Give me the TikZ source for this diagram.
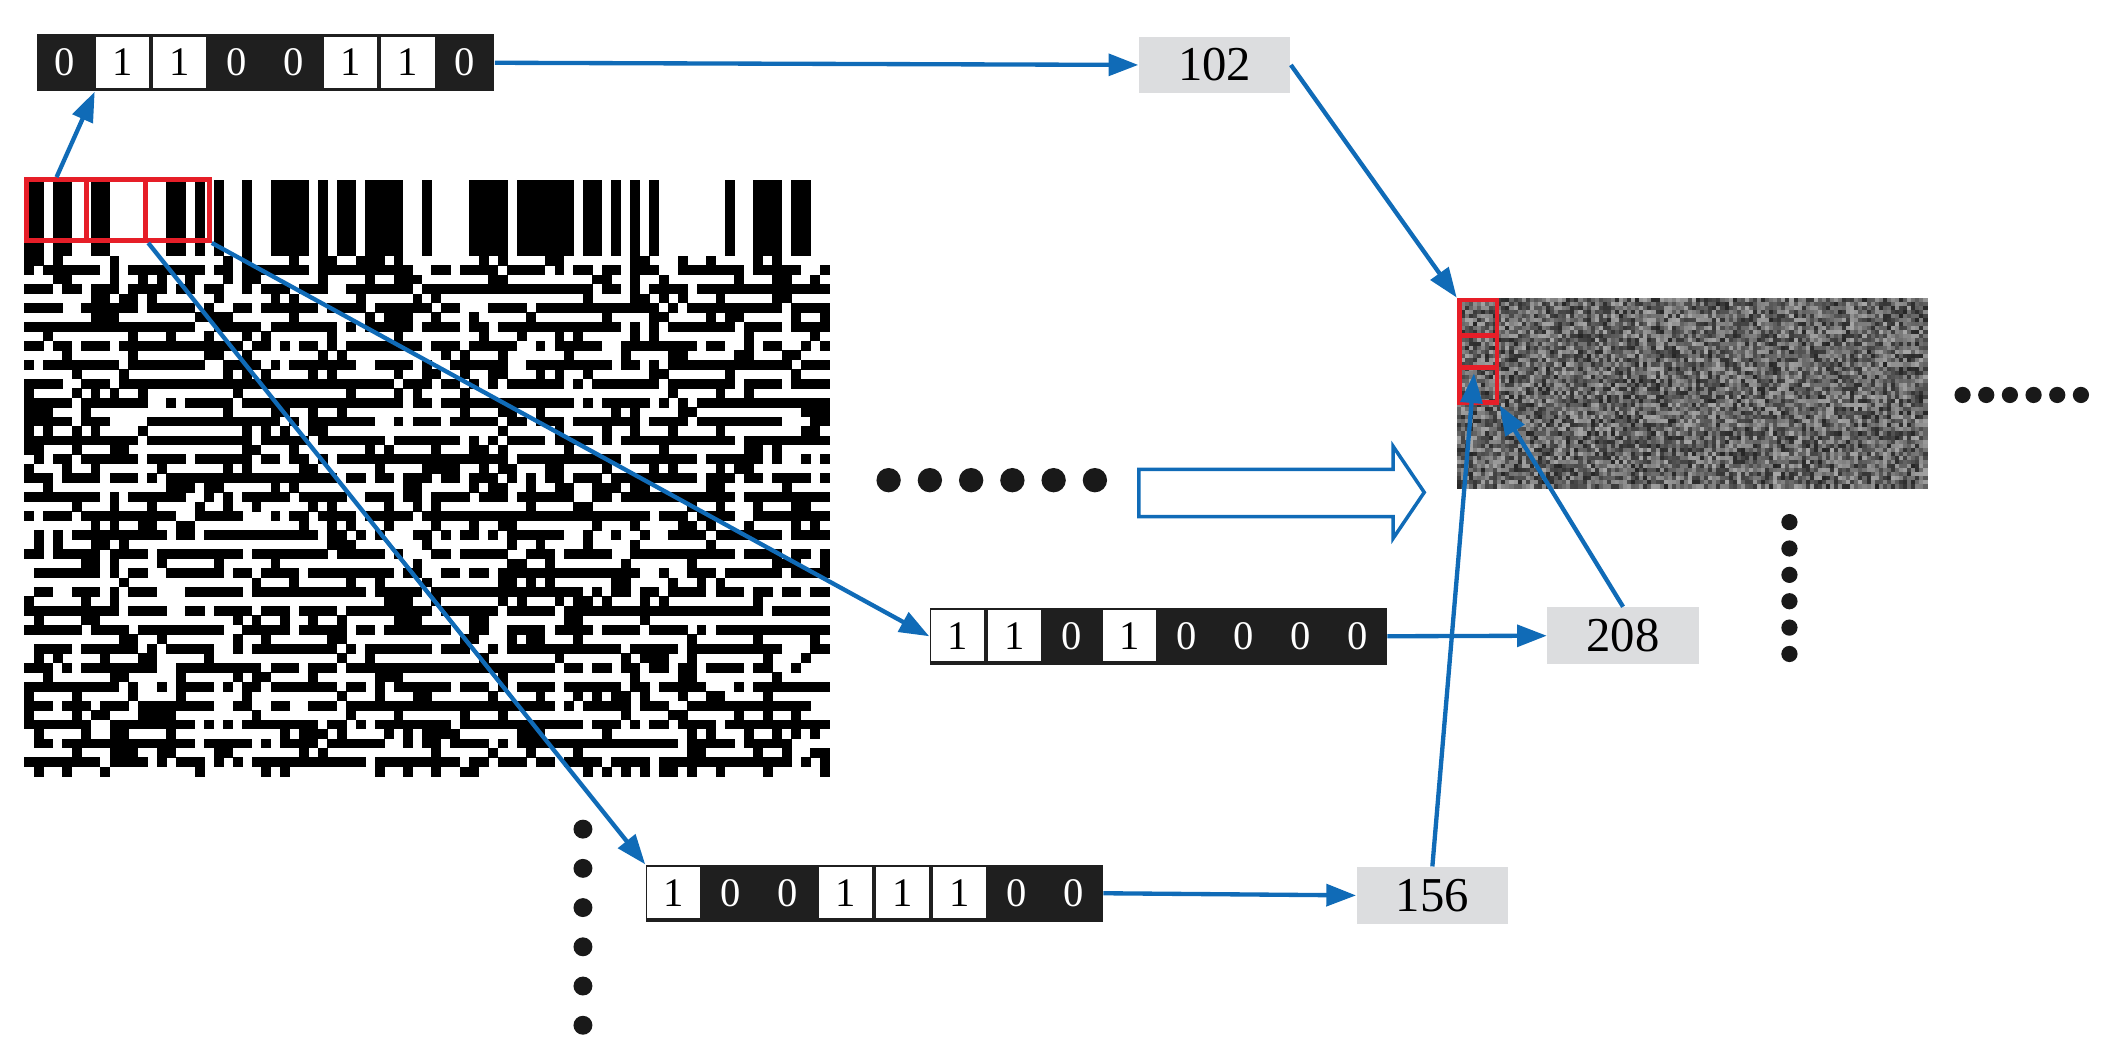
\documentclass[tikz,border=0pt]{standalone}
\usepackage{fontspec}
\setmainfont{Liberation Serif}
\usetikzlibrary{arrows.meta,calc}
\definecolor{arr}{RGB}{16,107,183}
\definecolor{lg}{RGB}{220,221,223}
\definecolor{rd}{RGB}{230,30,40}
\newcommand\mybyte[4]{%
 \node[fill=black!88,minimum width=169pt,minimum height=21pt,inner sep=0,anchor=north west] (#1) at (#2,#3) {};
 \foreach \b [count=\i from 0] in {#4}{
   \ifnum\b=1 \def\tc{black}\fill[white] (#2+\i*42.25+1.5,#3+2) rectangle ++(39.25,38);\else\def\tc{white}\fi
   \node[font=\fontsize{15}{15}\selectfont,text=\tc,inner sep=0] at (#2+\i*42.25+21.1,#3+21) {\b};
 }}
\begin{document}
\begin{tikzpicture}[x=0.5pt,y=-0.5pt,
  conn/.style={arr,line width=1.6pt,-{Triangle[length=11pt,width=8pt]}},
  val/.style={fill=lg,minimum width=56pt,minimum height=21pt,inner sep=0,font=\fontsize{18}{18}\selectfont},
  rbox/.style={draw=rd,line width=1.8pt,inner sep=0,anchor=north west},
  dot/.style={fill=black!90}]
\useasboundingbox (0,0) rectangle (1560,783);
\pgfmathsetseed{7}
% barcode image
\foreach \i in {0,...,84}{
  \pgfmathrandominteger{\col}{0}{1}
  \foreach \j in {0,...,62}{
    \ifnum\j<8
      \ifnum\col=1 \fill[black] (18+\i*7,133+\j*7) rectangle ++(7.3,7.3);\fi
    \else
      \pgfmathsetmacro\p{ifthenelse(isodd(\j),0.78,0.22)}
      \pgfmathparse{rnd<\p?1:0}
      \ifnum\pgfmathresult=1 \fill[black] (18+\i*7,133+\j*7) rectangle ++(7.3,7.3);\fi
    \fi
  }
}
% noise image
\foreach \i in {0,...,115}{
  \foreach \j in {0,...,46}{
    \pgfmathsetmacro\g{int(35+random(0,50))}
    \fill[black!\g] (1077+\i*3,220+\j*3) rectangle ++(3.2,3.2);
  }
}
% red boxes
\node[rbox,minimum width=22pt,minimum height=22.5pt] (r1) at (18,131) {};
\node[rbox,minimum width=22pt,minimum height=22.5pt] (r2) at (62,131) {};
\node[rbox,minimum width=23.5pt,minimum height=22.5pt] (r3) at (106,131) {};
\node[rbox,minimum width=14pt,minimum height=13pt] (n1) at (1077,220) {};
\node[rbox,minimum width=14pt,minimum height=12pt] (n2) at (1077,246) {};
\node[rbox,minimum width=14pt,minimum height=13pt] (n3) at (1077,270) {};
% bytes
\mybyte{b1}{27}{25}{0,1,1,0,0,1,1,0}
\mybyte{b2}{687}{449}{1,1,0,1,0,0,0,0}
\mybyte{b3}{477}{639}{1,0,0,1,1,1,0,0}
% values
\node[val] (v102) at (898,48) {102};
\node[val] (v208) at (1200,470) {208};
\node[val] (v156) at (1059,662) {156};
% hollow arrow
\draw[arr,line width=1.3pt,line join=miter] (842,347) -- (1030,347) -- (1030,330) -- (1053,364) -- (1030,398) -- (1030,382) -- (842,382) -- cycle;
% dots
\foreach \k [count=\n] in {0,...,5}{
  \node[circle,dot,inner sep=0,minimum size=9pt] (m\n) at (657+\k*30.5,355) {};
  \node[circle,dot,inner sep=0,minimum size=6pt] (h\n) at (1451+\k*17.5,292) {};
  \node[circle,dot,inner sep=0,minimum size=6pt] (v\n) at (1323,386+\k*19.5) {};
  \node[circle,dot,inner sep=0,minimum size=7pt] (w\n) at (431,613+\k*29) {};
}
% connectors
\draw[conn] (r1.north) -- ($(b1.south west)+(43,0)$);
\draw[conn] (b1.east) -- (v102.west);
\draw[conn] (v102.east) -- (n1.north west);
\draw[conn] (r2.south east) -- (b3.north west);
\draw[conn] (r3.south east) -- (b2.west);
\draw[conn] (b2.east) -- (v208.west);
\draw[conn] (v208.north) -- (n3.south east);
\draw[conn] (b3.east) -- (v156.west);
\draw[conn] (v156.north) -- ($(n3.north)+(-3,6)$);
\end{tikzpicture}
\end{document}
